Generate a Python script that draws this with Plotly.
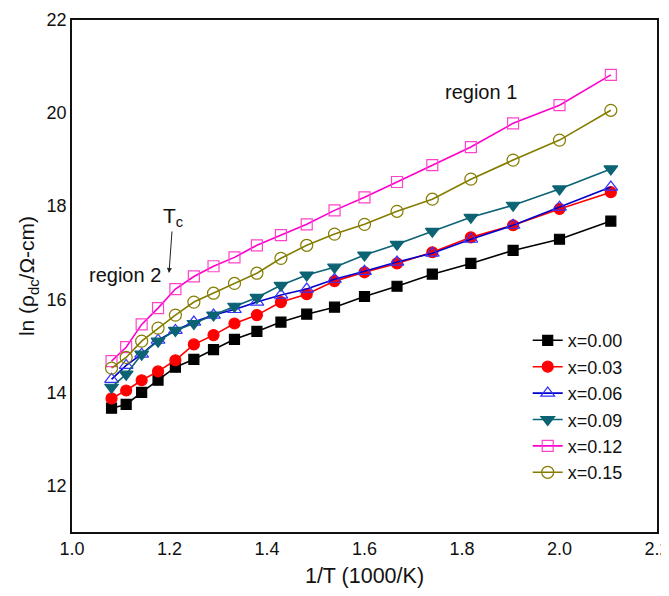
import plotly.graph_objects as go

inv_T = [1.0811, 1.1111, 1.1429, 1.1765, 1.2121, 1.2500, 1.2903, 1.3333, 1.3793,
         1.4286, 1.4815, 1.5385, 1.6000, 1.6667, 1.7391, 1.8182, 1.9048, 2.0000, 2.1053]

y_000 = [13.66, 13.74, 14.00, 14.26, 14.54, 14.71, 14.92, 15.14, 15.31, 15.51,
         15.68, 15.83, 16.06, 16.28, 16.54, 16.77, 17.05, 17.29, 17.68]
y_003 = [13.87, 14.04, 14.26, 14.45, 14.69, 15.03, 15.23, 15.48, 15.66, 15.94,
         16.11, 16.39, 16.58, 16.77, 17.01, 17.33, 17.59, 17.94, 18.30]
y_006 = [14.28, 14.58, 14.82, 15.12, 15.33, 15.51, 15.66, 15.78, 15.94, 16.09,
         16.22, 16.43, 16.60, 16.80, 16.99, 17.29, 17.59, 17.98, 18.41]
y_009 = [14.11, 14.39, 14.82, 15.10, 15.33, 15.48, 15.66, 15.85, 16.04, 16.30,
         16.52, 16.69, 16.95, 17.18, 17.46, 17.76, 18.02, 18.37, 18.80]
y_012 = [14.67, 14.97, 15.46, 15.81, 16.22, 16.49, 16.71, 16.90, 17.16, 17.38,
         17.61, 17.91, 18.19, 18.52, 18.88, 19.27, 19.78, 20.17, 20.82]
y_015 = [14.52, 14.75, 15.10, 15.38, 15.66, 15.94, 16.13, 16.34, 16.56, 16.88,
         17.16, 17.40, 17.61, 17.89, 18.15, 18.58, 18.99, 19.42, 20.06]

series_names = ["x=0.00", "x=0.03", "x=0.06", "x=0.09", "x=0.12", "x=0.15"]
series_vals = [y_000, y_003, y_006, y_009, y_012, y_015]

x_ticks = [1.0, 1.2, 1.4, 1.6, 1.8, 2.0, 2.2]
x_ticktext = ["1.0", "1.2", "1.4", "1.6", "1.8", "2.0", "2.2"]
y_ticks = [12, 14, 16, 18, 20, 22]

styles = [
    dict(color="#000000", symbol="square", size=10, fill="#000000"),
    dict(color="#ff0000", symbol="circle", size=11, fill="#ff0000"),
    dict(color="#0000cc", symbol="triangle-up-open", size=12, fill="#3333ff"),
    dict(color="#0b6374", symbol="triangle-down", size=12, fill="#0b6374"),
    dict(color="#ff00cc", symbol="square-open", size=11, fill="#ff44cc"),
    dict(color="#857d00", symbol="circle-open", size=12, fill="#857d00"),
]

fig = go.Figure()
for name, vals, st in zip(series_names, series_vals, styles):
    fig.add_trace(go.Scatter(
        x=inv_T, y=vals, name=name, mode="lines+markers",
        line=dict(color=st["color"], width=1.6),
        marker=dict(symbol=st["symbol"], size=st["size"], color=st["fill"],
                    line=dict(color=st["fill"], width=1.2)),
    ))

font_family = "Liberation Sans, Arial, sans-serif"
txt = "#111111"

# the page body adds an 8px margin, so margins compensate for that offset
fig.update_layout(
    width=669, height=580,
    margin=dict(l=64, r=20, t=12, b=56, autoexpand=False),
    paper_bgcolor="white", plot_bgcolor="white",
    font=dict(family=font_family, color=txt, size=18),
    showlegend=True,
    legend=dict(x=0.779, y=0.41, xanchor="left", yanchor="top",
                bgcolor="rgba(0,0,0,0)", font=dict(size=18, color=txt),
                tracegroupgap=0),
    xaxis=dict(range=[1.0, 2.2], tickvals=x_ticks, ticktext=x_ticktext,
               tickfont=dict(size=18, color=txt), automargin=False,
               ticklabeloverflow="allow",
               showgrid=False, zeroline=False, showline=True, mirror=True,
               linecolor="#111111", linewidth=1.5, ticks="",
               title=dict(text="1/T (1000/K)", font=dict(size=21.5, color=txt),
                          standoff=14)),
    yaxis=dict(range=[11, 22], tickvals=y_ticks,
               tickfont=dict(size=18, color=txt), automargin=False,
               ticklabeloverflow="allow",
               showgrid=False, zeroline=False, showline=True, mirror=True,
               linecolor="#111111", linewidth=1.5, ticks="",
               title=dict(text="ln (ρ<sub>dc</sub>/Ω-cm)", font=dict(size=21, color=txt),
                          standoff=6)),
    annotations=[
        dict(x=1.839, y=20.45, xref="x", yref="y", text="region 1", showarrow=False,
             font=dict(size=20, color=txt)),
        dict(x=1.109, y=16.52, xref="x", yref="y", text="region 2", showarrow=False,
             font=dict(size=20, color=txt)),
        dict(x=1.199, y=16.565, xref="x", yref="y", text="T<sub>c</sub>", showarrow=True,
             ax=4, ay=-56, arrowhead=2, arrowsize=1, arrowwidth=1,
             arrowcolor="#222222", font=dict(size=21, color=txt)),
    ],
)

fig.write_html("out.html")
